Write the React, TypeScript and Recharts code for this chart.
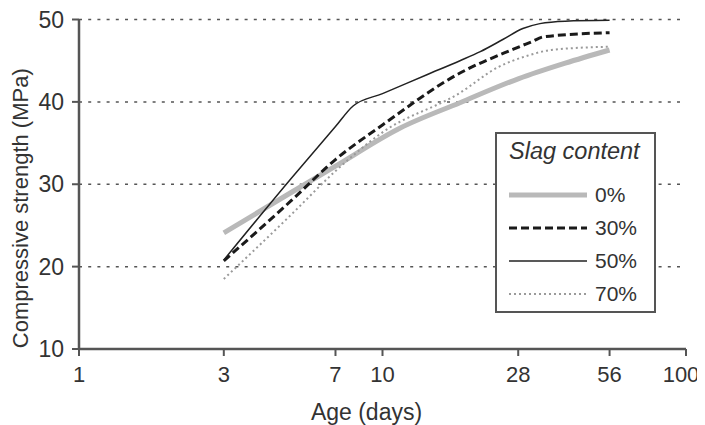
import React from "react";
import { LineChart, Line, XAxis, YAxis, CartesianGrid } from "recharts";

// ---- data ----
const xTicks = [1, 3, 7, 10, 28, 56, 100];
const yTicks = [10, 20, 30, 40, 50];

const ages0 = [3, 5, 7, 11.4, 18, 28, 40, 56];
const strength0 = [24.1, 29.0, 32.2, 36.8, 39.9, 42.8, 44.7, 46.3];

const ages30 = [3, 5, 7, 10, 18, 27, 31, 34, 56];
const strength30 = [20.7, 28, 33, 37.2, 43.5, 46.4, 47.3, 47.9, 48.4];

const ages50 = [3, 5, 7, 8, 10, 14, 18, 21, 25, 29, 33, 40, 56];
const strength50 = [20.8, 30.7, 37.0, 39.5, 41.0, 43.3, 45.0, 46.1, 47.6, 48.9, 49.5, 49.8, 49.9];

const ages70 = [3, 5, 7, 10, 18, 24, 30, 36, 56];
const strength70 = [18.5, 26.3, 31.6, 36.3, 41.1, 44.2, 45.6, 46.3, 46.7];

const seriesLabels = ["0%", "30%", "50%", "70%"];
const legendTitle = "Slag content";
const xTitle = "Age (days)";
const yTitle = "Compressive strength (MPa)";

const toRows = (ages: number[], vals: number[]) =>
  ages.map((a, i) => ({ age: a, value: vals[i] }));

const FONT = "'Liberation Sans', Arial, Helvetica, sans-serif";
const TEXT = "#333";
const AXIS = "#555";

const series = [
  { name: seriesLabels[0], data: toRows(ages0, strength0), stroke: "#b9b9b9", width: 5, dash: undefined as string | undefined },
  { name: seriesLabels[1], data: toRows(ages30, strength30), stroke: "#1a1a1a", width: 3, dash: "8 4" },
  { name: seriesLabels[2], data: toRows(ages50, strength50), stroke: "#222", width: 1.5, dash: undefined },
  { name: seriesLabels[3], data: toRows(ages70, strength70), stroke: "#9a9a9a", width: 2, dash: "2 3" },
];

const lastTick = xTicks[xTicks.length - 1];

const XTick = (props: any) => {
  const { x, y, payload } = props;
  const shift = payload.value === lastTick ? -5 : 0;
  return (
    <text x={x + shift} y={y} dy="0.71em" textAnchor="middle" fontFamily={FONT} fontSize={22} fill={TEXT}>
      {payload.value}
    </text>
  );
};

const YTitle = (props: any) => {
  const vb = props.viewBox || {};
  const cx = (vb.x || 0) + 12;
  const cy = (vb.y || 0) + (vb.height || 0) / 2 + 24;
  return (
    <text
      x={cx}
      y={cy}
      transform={`rotate(-90, ${cx}, ${cy})`}
      textAnchor="middle"
      dominantBaseline="central"
      fontFamily={FONT}
      fontSize={22}
      fill={TEXT}
    >
      {yTitle}
    </text>
  );
};

const XTitle = (props: any) => {
  const vb = props.viewBox || {};
  const cx = (vb.x || 0) + (vb.width || 0) / 2 - 16;
  const cy = (vb.y || 0) + 63;
  return (
    <text x={cx} y={cy} textAnchor="middle" dominantBaseline="central" fontFamily={FONT} fontSize={23} fill={TEXT}>
      {xTitle}
    </text>
  );
};

const LegendBox = () => (
  <div
    style={{
      position: "absolute",
      left: 487,
      top: 124,
      width: 161,
      height: 181,
      boxSizing: "border-box",
      border: `2px solid ${AXIS}`,
      background: "#fff",
      fontFamily: FONT,
      color: TEXT,
    }}
  >
    <div
      style={{
        position: "absolute",
        left: 12,
        top: 3,
        fontStyle: "italic",
        fontSize: 23.5,
        lineHeight: "28px",
        whiteSpace: "nowrap",
      }}
    >
      {legendTitle}
    </div>
    {series.map((s, i) => (
      <div key={s.name} style={{ position: "absolute", left: 12, top: 46 + i * 33, height: 30, display: "flex", alignItems: "center" }}>
        <svg width={78} height={10} style={{ display: "block" }}>
          <line x1={0} y1={5} x2={78} y2={5} stroke={s.stroke} strokeWidth={s.width} strokeDasharray={s.dash} />
        </svg>
        <span style={{ marginLeft: 8, fontSize: 21, lineHeight: "30px" }}>{s.name}</span>
      </div>
    ))}
  </div>
);

export default function App() {
  return (
    <div style={{ position: "relative", width: 697, height: 417 }}>
      <LineChart width={697} height={417} margin={{ top: 11.5, right: 19, bottom: 0, left: 0 }}>
        <CartesianGrid vertical={false} stroke={AXIS} strokeDasharray="3 6.2" strokeWidth={1.5} />
        <XAxis
          dataKey="age"
          type="number"
          scale="log"
          domain={[1, 100]}
          ticks={xTicks}
          interval={0}
          allowDataOverflow
          height={76}
          axisLine={{ stroke: AXIS, strokeWidth: 2.5 }}
          tickLine={{ stroke: AXIS, strokeWidth: 2 }}
          tickSize={7}
          tickMargin={10}
          tick={<XTick />}
          label={<XTitle />}
        />
        <YAxis
          type="number"
          domain={[10, 50]}
          ticks={yTicks}
          interval={0}
          width={71}
          axisLine={{ stroke: AXIS, strokeWidth: 2.5 }}
          tickLine={{ stroke: AXIS, strokeWidth: 2 }}
          tickSize={7}
          tickMargin={8}
          tick={{ fontFamily: FONT, fontSize: 23, fill: TEXT }}
          label={<YTitle />}
        />
        {series.map((s) => (
          <Line
            key={s.name}
            data={s.data}
            dataKey="value"
            name={s.name}
            type="monotone"
            stroke={s.stroke}
            strokeWidth={s.width}
            strokeDasharray={s.dash}
            dot={false}
            activeDot={false}
            isAnimationActive={false}
          />
        ))}
      </LineChart>
      <LegendBox />
    </div>
  );
}
